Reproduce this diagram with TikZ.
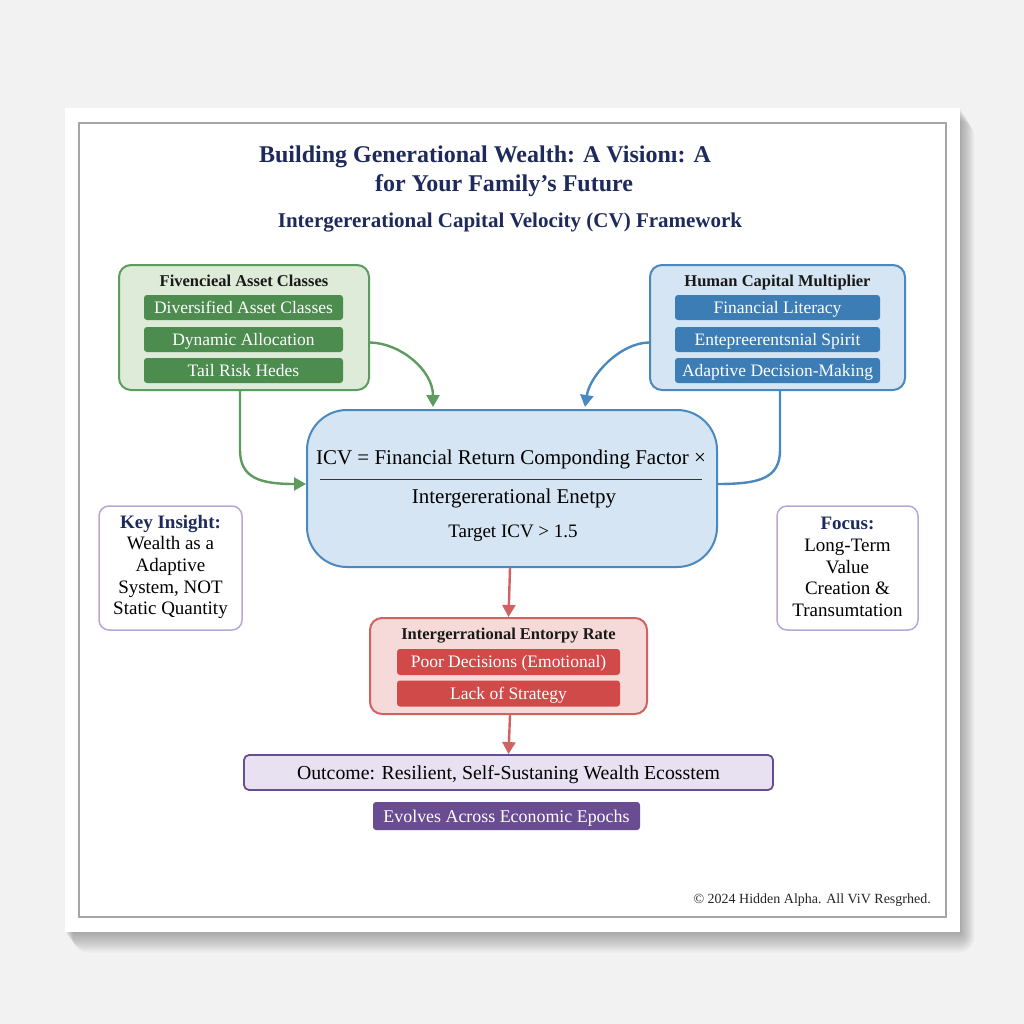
\documentclass[tikz,border=0pt]{standalone}
\usepackage{fontspec}
\setmainfont{Liberation Serif}
\usetikzlibrary{arrows.meta,calc}
\definecolor{navy}{HTML}{1E2A5C}
\definecolor{bgray}{HTML}{ECECEC}
\definecolor{gline}{HTML}{5E9B5E}
\definecolor{gfill}{HTML}{DDEBD8}
\definecolor{gdark}{HTML}{4C8C4F}
\definecolor{bline}{HTML}{4A88C0}
\definecolor{bfill}{HTML}{D5E5F3}
\definecolor{bdark}{HTML}{3D7DB5}
\definecolor{rline}{HTML}{D06262}
\definecolor{rfill}{HTML}{F6DADA}
\definecolor{rdark}{HTML}{D04A4A}
\definecolor{pline}{HTML}{6A4C93}
\definecolor{pfill}{HTML}{E7E1F1}
\definecolor{plight}{HTML}{B9A6D3}
\tikzset{
  outerbox/.style={draw=#1, line width=2pt, rounded corners=12pt},
  subbox/.style={fill=#1, rounded corners=3pt, text=white, font=\fontsize{17.5}{19}\selectfont, minimum height=25pt, inner sep=0pt, text height=11.5pt, text depth=0pt},
  boxtitle/.style={font=\fontsize{16.5}{18}\selectfont\bfseries, text=black!90, inner sep=0pt, text height=11pt, text depth=0pt},
  sidebox/.style={draw=plight, line width=1.5pt, fill=white, rounded corners=10pt, minimum width=#1, minimum height=124pt},
  conn/.style={line width=2.4pt},
  tip/.style={-{Triangle[length=12pt,width=13pt]}},
}
\begin{document}
\begin{tikzpicture}[x=1pt,y=-1pt]
\useasboundingbox (0,0) rectangle (1024,1024);
\fill[bgray!70] (0,0) rectangle (1024,1024);
% soft shadow
\foreach \i in {1,...,16}{
  \fill[black,opacity=0.018,rounded corners=\i pt] (65+\i*0.5,108+\i*0.8) rectangle (960+\i*0.9,932+\i*1.3);
}
\fill[white] (65,108) rectangle (960,932);
\draw[black!35, line width=1.2pt] (79,123) rectangle (946,917);

% titles
\node[text=navy, font=\fontsize{24}{26}\selectfont\bfseries, inner sep=0] (t1) at (485,157) {Building Generational Wealth: A Visionı: A};
\node[text=navy, font=\fontsize{24}{26}\selectfont\bfseries, inner sep=0] (t2) at (504,186) {for Your Family’s Future};
\node[text=navy, font=\fontsize{21}{23}\selectfont\bfseries, inner sep=0] (t3) at (510,223) {Intergererational Capital Velocity (CV) Framework};

% green group
\node[outerbox=gline, fill=gfill, minimum width=250pt, minimum height=125pt] (gbox) at (244,327.5) {};
\node[boxtitle] (gt) at (244,281) {Fivencieal Asset Classes};
\node[subbox=gdark, minimum width=199pt] (g1) at (243.5,307.5) {Diversified Asset Classes};
\node[subbox=gdark, minimum width=199pt] (g2) at (243.5,339.5) {Dynamic Allocation};
\node[subbox=gdark, minimum width=199pt] (g3) at (243.5,370.5) {Tail Risk Hedes};

% blue group
\node[outerbox=bline, fill=bfill, minimum width=255pt, minimum height=125pt] (bbox) at (777.5,327.5) {};
\node[boxtitle] (bt) at (777.5,281) {Human Capital Multiplier};
\node[subbox=bdark, minimum width=205pt] (b1) at (777.5,307.5) {Financial Literacy};
\node[subbox=bdark, minimum width=205pt] (b2) at (777.5,339.5) {Entepreerentsnial Spirit};
\node[subbox=bdark, minimum width=205pt] (b3) at (777.5,370.5) {Adaptive Decision-Making};

% center
\node[draw=bline, line width=2pt, fill=bfill, rounded corners=40pt, minimum width=410pt, minimum height=157pt] (cbox) at (512,488.5) {};
\node[font=\fontsize{21}{23}\selectfont, inner sep=0] (f1) at (511,459) {ICV = Financial Return Componding Factor ×};
\draw[black!80, line width=1pt] (320,479) -- (702,479);
\node[font=\fontsize{21}{23}\selectfont, inner sep=0] (f2) at (514,498) {Intergererational Enetpy};
\node[font=\fontsize{19}{21}\selectfont, inner sep=0] (f3) at (513,533) {Target ICV > 1.5};

% side boxes
\node[sidebox=143pt] (key) at (170.5,568) {};
\node[align=center, font=\fontsize{19}{21.7}\selectfont, inner sep=0] (keyt) at (170.5,567) {\textcolor{navy}{\bfseries Key Insight:}\\Wealth as a\\Adaptive\\System, NOT\\Static Quantity};
\node[sidebox=141pt] (focus) at (847.5,568) {};
\node[align=center, font=\fontsize{19}{21.7}\selectfont, inner sep=0] (focust) at (847.5,567) {\textcolor{navy}{\bfseries Focus:}\\Long-Term\\Value\\Creation \&\\Transumtation};

% red group
\node[outerbox=rline, fill=rfill, minimum width=277pt, minimum height=96pt] (rbox) at (508.5,666) {};
\node[boxtitle] (rt) at (508.5,634) {Intergerrational Entorpy Rate};
\node[subbox=rdark, minimum width=223pt, minimum height=26pt] (r1) at (508.5,662) {Poor Decisions (Emotional)};
\node[subbox=rdark, minimum width=223pt, minimum height=26pt] (r2) at (508.5,693.5) {Lack of Strategy};

% outcome
\node[draw=pline, line width=1.8pt, fill=pfill, rounded corners=5pt, minimum width=529pt, minimum height=35pt, font=\fontsize{19.8}{21}\selectfont, inner sep=0, text height=13pt, text depth=0pt] (out) at (508.5,772.5) {Outcome: Resilient, Self-Sustaning Wealth Ecosstem};
\node[fill=pline, rounded corners=3pt, minimum width=267pt, minimum height=28pt, text=white, font=\fontsize{17.9}{19}\selectfont, inner sep=0, text height=12pt, text depth=0pt] (evo) at (506.5,816) {Evolves Across Economic Epochs};

% copyright
\node[anchor=east, font=\fontsize{14}{16}\selectfont, text=black!85, inner sep=0] (copy) at (931,900) {© 2024 Hidden Alpha. All ViV Resgrhed.};

% connectors
\draw[conn, gline, tip] ([yshift=-15pt]gbox.east) .. controls (400,343) and (433,370) .. ($(cbox.north)+(-79,-2)$);
\draw[conn, gline, tip] ([xshift=-4pt]gbox.south) -- (240,450) .. controls (240,478) and (260,484) .. ([yshift=4.5pt]cbox.west);
\draw[conn, bline, tip] ([yshift=-15pt]bbox.west) .. controls (620,343) and (590,375) .. ($(cbox.north)+(73,-2)$);
\draw[conn, bline] ([xshift=2.5pt]bbox.south) -- (780,450) .. controls (780,478) and (760,484) .. ([yshift=4.5pt]cbox.east);
\draw[conn, rline, tip] ([xshift=-2pt]cbox.south) -- (rbox.north);
\draw[conn, rline, tip] ([xshift=1.5pt]rbox.south) -- (out.north);
\end{tikzpicture}
\end{document}
